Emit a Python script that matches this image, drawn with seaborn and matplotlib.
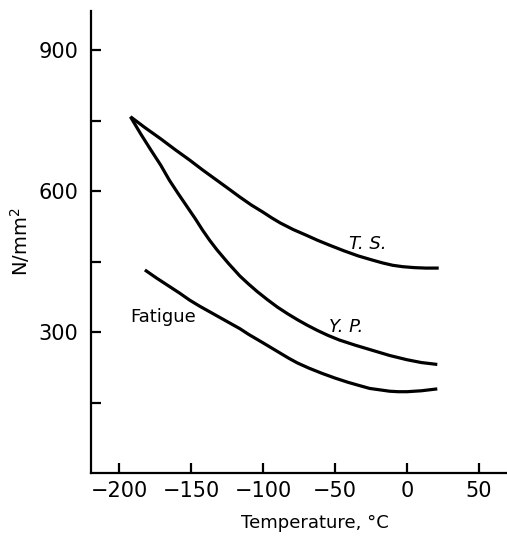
import numpy as np
import pandas as pd
import matplotlib
matplotlib.use("Agg")
import matplotlib.pyplot as plt
import seaborn as sns

# Tensile strength (T.S.), yield point (Y.P.) and fatigue strength vs temperature
ts_temp = [-192, -182, -171, -161, -151, -142, -133, -124, -116, -108, -100, -94,
           -88, -79, -70, -62, -54, -44, -34, -24, -17, -10, -3, 5, 13, 22]
ts_val = [758, 735, 711, 688, 666, 645, 625, 605, 587, 570, 555, 543,
          532, 518, 506, 495, 485, 473, 462, 453, 447, 442, 439, 437, 436, 436]

yp_temp = [-192, -185, -178, -171, -165, -159, -153, -147, -142, -137, -132, -124,
           -116, -110, -104, -97, -90, -83, -76, -69, -62, -55, -47, -36, -24, -12,
           0, 10, 21]
yp_val = [758, 722, 688, 655, 623, 595, 568, 541, 517, 495, 475, 446,
          419, 402, 386, 369, 353, 339, 326, 314, 303, 293, 283, 272, 261, 250,
          241, 235, 231]

fat_temp = [-182, -174, -166, -158, -151, -144, -137, -130, -123, -116, -110, -105,
            -100, -94, -88, -82, -76, -68, -59, -50, -41, -33, -26, -19, -12, -6,
            0, 10, 21]
fat_val = [432, 415, 399, 383, 368, 355, 343, 331, 319, 307, 295, 286,
           277, 266, 255, 244, 234, 223, 212, 202, 193, 186, 180, 177, 174, 173,
           173, 175, 179]

curve_labels = ["T. S.", "Y. P.", "Fatigue"]
label_x = [-27, -42, -169]
label_y = [487, 310, 332]
label_style = ["italic", "italic", "normal"]

x_ticks = [-200, -150, -100, -50, 0, 50]
y_ticks = [150, 300, 450, 600, 750, 900]
y_ticklabels = ["", "300", "", "600", "", "900"]

sns.set_theme(style="ticks")
plt.rcParams["font.family"] = ["DejaVu Sans"]

fig = plt.figure(figsize=(5.07, 5.36), dpi=100)
ax = fig.add_axes([0.1795, 0.1175, 0.8205, 0.862])

for t, v in [(ts_temp, ts_val), (yp_temp, yp_val), (fat_temp, fat_val)]:
    df = pd.DataFrame({"temp": t, "val": v})
    sns.lineplot(data=df, x="temp", y="val", sort=False, estimator=None,
                 color="black", linewidth=2.3, ax=ax,
                 solid_joinstyle="round", solid_capstyle="butt")

for lab, lx, ly, st in zip(curve_labels, label_x, label_y, label_style):
    ax.text(lx, ly, lab, ha="center", va="center", fontsize=13,
            style=st, color="black")

ax.set_xlim(-219.4, 69.4)
ax.set_ylim(0, 983)
ax.set_xticks(x_ticks)
ax.set_yticks(y_ticks)
ax.set_yticklabels(y_ticklabels)
ax.tick_params(direction="in", length=7, width=1.6, labelsize=15,
               colors="black", pad=9)
ax.tick_params(axis="x", pad=6)
for s in ["top", "right"]:
    ax.spines[s].set_visible(False)
for s in ["left", "bottom"]:
    ax.spines[s].set_linewidth(1.6)
    ax.spines[s].set_color("black")

ax.set_xlabel("Temperature, °C", fontsize=13, color="black")
ax.xaxis.set_label_coords(0.538, -0.088)
ax.set_ylabel("N/mm$^2$", fontsize=14, color="black")
ax.yaxis.set_label_coords(-0.142, 0.5)

fig.savefig("out.png", dpi=100, facecolor="white")
